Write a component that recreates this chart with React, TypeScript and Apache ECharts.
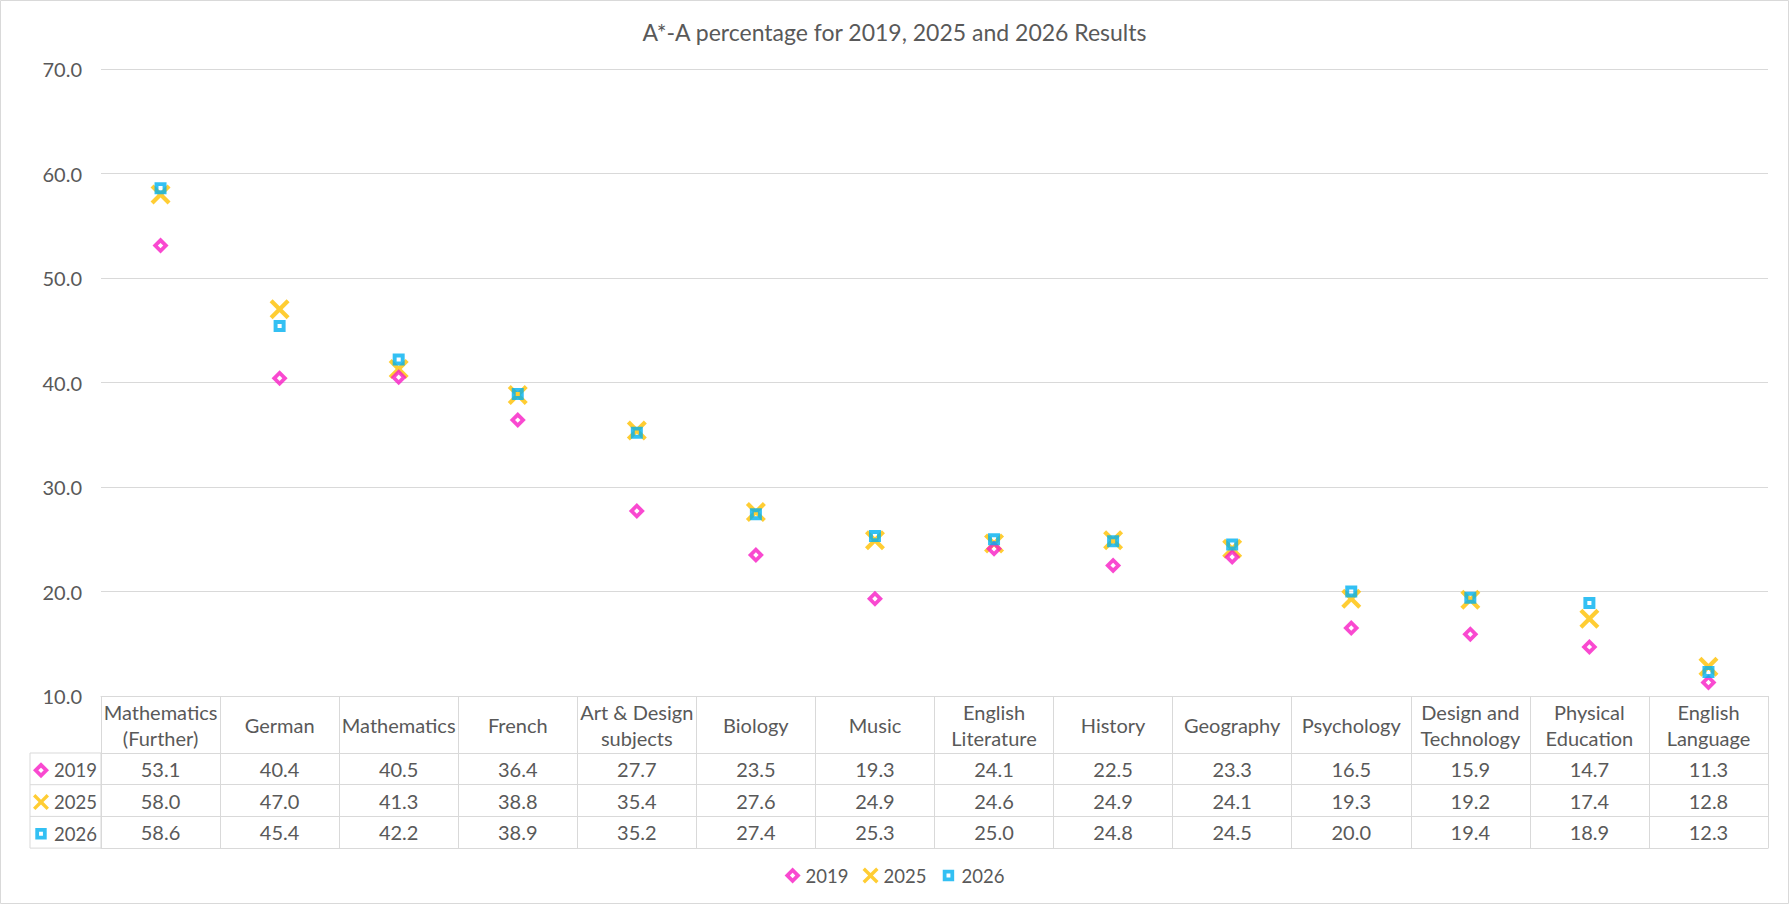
import React, { useEffect, useRef } from "react";
import * as echarts from "echarts";

const categories = [
  "Mathematics\n(Further)",
  "German",
  "Mathematics",
  "French",
  "Art & Design\nsubjects",
  "Biology",
  "Music",
  "English\nLiterature",
  "History",
  "Geography",
  "Psychology",
  "Design and\nTechnology",
  "Physical\nEducation",
  "English\nLanguage",
];
const seriesNames = ["2019", "2025", "2026"];
const values2019 = [53.1, 40.4, 40.5, 36.4, 27.7, 23.5, 19.3, 24.1, 22.5, 23.3, 16.5, 15.9, 14.7, 11.3];
const values2025 = [58.0, 47.0, 41.3, 38.8, 35.4, 27.6, 24.9, 24.6, 24.9, 24.1, 19.3, 19.2, 17.4, 12.8];
const values2026 = [58.6, 45.4, 42.2, 38.9, 35.2, 27.4, 25.3, 25.0, 24.8, 24.5, 20.0, 19.4, 18.9, 12.3];
const tableRows = [values2019, values2025, values2026];
const yMin = 10;
const yMax = 70;
const yInterval = 10;
const titleText = "A*-A percentage for 2019, 2025 and 2026 Results";

const W = 1789;
const H = 905;
const GRID_LEFT = 101;
const GRID_RIGHT = 21;
const GRID_TOP = 69;
const GRID_BOTTOM = 209;
const HEADER_H = 57;
const ROW_H = 31.7;
const KEY_LEFT = 30;
const TEXT = "#595959";
const LINE = "#D9D9D9";
const FONT = "Lato";
const FS = 20;
const LEGEND_FS = 18.5;
const ICON = 16;

const C2019 = "#F81CC4";
const C2025 = "#FFC000";
const C2026 = "#00B0F0";

const X_PATH =
  "path://M0,1.5L1.5,0L5,3.5L8.5,0L10,1.5L6.5,5L10,8.5L8.5,10L5,6.5L1.5,10L0,8.5L3.5,5Z";
const DIAMOND_PATH = "path://M5,0L10,5L5,10L0,5ZM5,3.3L3.3,5L5,6.7L6.7,5Z";
const SQUARE_PATH = "path://M0,0H10V10H0ZM3.3,3.3V6.7H6.7V3.3Z";
const SQUARE_LEGEND_PATH = "path://M-2,-2M12,12M0,0H10V10H0ZM3.3,3.3V6.7H6.7V3.3Z";

export default function App() {
  const ref = useRef<HTMLDivElement>(null);
  useEffect(() => {
    document.body.style.margin = "0";
    if (!ref.current) return;
    const chart = echarts.init(ref.current, null, { renderer: "svg" });
    const plotBottom = H - GRID_BOTTOM;
    const tableH = HEADER_H + 3 * ROW_H;

    const valueAxes = tableRows.map((row, i) => ({
      type: "category",
      data: categories,
      position: "bottom",
      offset: HEADER_H + i * ROW_H,
      axisLine: { show: true, lineStyle: { color: LINE } },
      axisTick: { show: false },
      axisLabel: {
        interval: 0,
        fontSize: FS,
        color: TEXT,
        fontFamily: FONT,
        verticalAlign: "middle",
        margin: ROW_H / 2,
        formatter: (_v: string, idx: number) => row[idx].toFixed(1),
      },
    }));

    const keyLines = [1, 2].map((i) => ({
      type: "line",
      shape: {
        x1: KEY_LEFT,
        y1: plotBottom + HEADER_H + i * ROW_H,
        x2: GRID_LEFT,
        y2: plotBottom + HEADER_H + i * ROW_H,
      },
      style: { stroke: LINE, lineWidth: 1 },
    }));

    const legendData = [
      { name: seriesNames[0], icon: DIAMOND_PATH },
      { name: seriesNames[1], icon: X_PATH },
      { name: seriesNames[2], icon: SQUARE_LEGEND_PATH },
    ];
    const legendCommon = {
      selectedMode: false,
      padding: 0,
      itemWidth: ICON,
      itemHeight: ICON,
      textStyle: { fontSize: LEGEND_FS, color: TEXT, fontFamily: FONT },
    };
    const keyLegends = legendData.map((item, i) => ({
      ...legendCommon,
      data: [item],
      left: KEY_LEFT + 3,
      top: plotBottom + HEADER_H + i * ROW_H + ROW_H / 2 - ICON / 2,
    }));

    chart.setOption({
      animation: false,
      backgroundColor: "#fff",
      title: {
        text: titleText,
        left: "center",
        top: 20,
        padding: 0,
        textStyle: { fontSize: 23, fontWeight: "normal", color: TEXT, fontFamily: FONT },
      },
      legend: [
        { ...legendCommon, data: legendData, left: "center", top: 874 - ICON / 2, itemGap: 14 },
        ...keyLegends,
      ],
      grid: { left: GRID_LEFT, right: GRID_RIGHT, top: GRID_TOP, bottom: GRID_BOTTOM },
      xAxis: [
        {
          type: "category",
          data: categories,
          position: "bottom",
          boundaryGap: true,
          axisLine: { show: true, lineStyle: { color: LINE } },
          axisTick: { show: true, interval: 0, length: tableH, lineStyle: { color: LINE } },
          axisLabel: {
            interval: 0,
            fontSize: FS,
            lineHeight: 26,
            color: TEXT,
            fontFamily: FONT,
            verticalAlign: "middle",
            margin: HEADER_H / 2,
          },
        },
        ...valueAxes,
        {
          type: "category",
          data: categories,
          position: "bottom",
          offset: tableH,
          axisLine: { show: true, lineStyle: { color: LINE } },
          axisTick: { show: false },
          axisLabel: { show: false },
        },
      ],
      yAxis: {
        type: "value",
        min: yMin,
        max: yMax,
        interval: yInterval,
        axisLine: { show: false },
        axisTick: { show: false },
        splitLine: { show: true, lineStyle: { color: LINE, width: 1 } },
        axisLabel: {
          fontSize: FS,
          color: TEXT,
          fontFamily: FONT,
          margin: 19,
          formatter: (v: number) => v.toFixed(1),
        },
      },
      series: [
        {
          name: "2025",
          type: "scatter",
          data: values2025,
          symbol: X_PATH,
          symbolSize: 20,
          itemStyle: { color: C2025 },
          z: 2,
        },
        {
          name: "2019",
          type: "scatter",
          data: values2019,
          symbol: DIAMOND_PATH,
          symbolSize: 16,
          itemStyle: { color: C2019 },
          z: 3,
        },
        {
          name: "2026",
          type: "scatter",
          data: values2026,
          symbol: SQUARE_PATH,
          symbolSize: 12,
          itemStyle: { color: C2026 },
          z: 4,
        },
      ],
      graphic: [
        {
          type: "rect",
          shape: { x: 0.5, y: 0.5, width: W - 1, height: H - 2 },
          style: { fill: "none", stroke: LINE, lineWidth: 1 },
          silent: true,
        },
        {
          type: "rect",
          shape: { x: KEY_LEFT, y: plotBottom + HEADER_H, width: GRID_LEFT - KEY_LEFT, height: 3 * ROW_H },
          style: { fill: "none", stroke: LINE, lineWidth: 1 },
          silent: true,
        },
        ...keyLines,
      ],
    });
    return () => chart.dispose();
  }, []);
  return <div ref={ref} style={{ width: W, height: H }} />;
}
